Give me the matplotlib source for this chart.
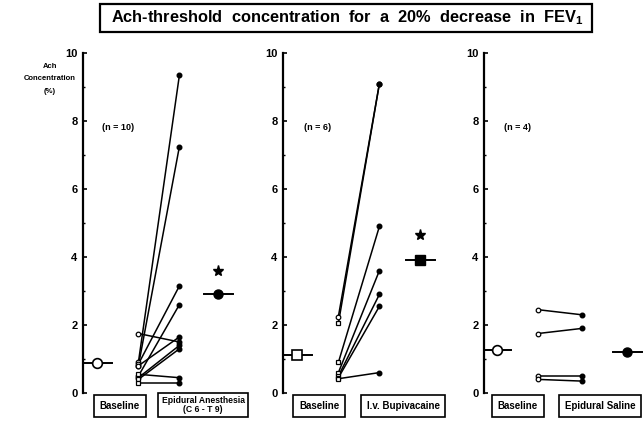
import matplotlib.pyplot as plt
from matplotlib.patches import Rectangle

plt.rcParams['font.family'] = ['Liberation Sans', 'DejaVu Sans']
plt.rcParams['font.weight'] = 'bold'
plt.rcParams['mathtext.fontset'] = 'custom'
plt.rcParams['mathtext.rm'] = 'Liberation Sans:bold'
plt.rcParams['mathtext.bf'] = 'Liberation Sans:bold'

# individual subjects: baseline -> treatment
base1 = [0.9, 0.8, 0.85, 0.5, 1.75, 0.8, 0.45, 0.4, 0.55, 0.3]
treat1 = [9.35, 7.25, 3.15, 2.6, 1.5, 1.65, 1.4, 1.3, 0.45, 0.3]
base2 = [2.25, 2.05, 0.9, 0.6, 0.5, 0.45, 0.42]
treat2 = [9.1, 9.1, 4.9, 3.6, 2.9, 2.55, 0.6]
base3 = [2.45, 1.75, 0.5, 0.4]
treat3 = [2.3, 1.9, 0.5, 0.35]

# group means
mean_base = [0.88, 1.12, 1.27]
mean_treat = [2.9, 3.92, 1.22]
star_y = [3.6, 4.65, None]

n_labels = ['(n = 10)', '(n = 6)', '(n = 4)']
treat_labels = ['Epidural Anesthesia\n(C 6 - T 9)', 'I.v. Bupivacaine', 'Epidural Saline']
yticks = [0, 2, 4, 6, 8, 10]

W, H = 643, 425
fig = plt.figure(figsize=(W / 100, H / 100), dpi=100)

lefts = [83, 283, 484]
col_x = [(0, 1, 2, 2.95), (0, 1, 2, 3.0), (-0.03, 0.97, 2.04, 3.14)]
base_mk = ['o', 's', 'o']
mean_base_mk = ['o', 's', 'o']
mean_treat_mk = ['o', 's', 'o']
data = [(base1, treat1), (base2, treat2), (base3, treat3)]

for i in range(3):
    ax = fig.add_axes([lefts[i] / W, 32 / H, 160 / W, 340 / H])
    ax.set_xlim(-0.35, 3.55)
    ax.set_ylim(0, 10)
    for s in ['top', 'right', 'bottom']:
        ax.spines[s].set_visible(False)
    ax.spines['left'].set_linewidth(1.6)
    ax.set_xticks([])
    ax.set_yticks(yticks)
    ax.set_yticklabels([str(v) for v in yticks], fontweight='bold')
    ax.set_yticks([1, 3, 5, 7, 9], minor=True)
    ax.tick_params(axis='y', direction='in', length=3, width=1.2, labelsize=8, pad=4)
    ax.tick_params(axis='y', which='minor', direction='in', length=1.5, width=1)

    xm0, xb, xt, xm1 = col_x[i]
    b, t = data[i]
    for bv, tv in zip(b, t):
        ax.plot([xb, xt], [bv, tv], color='black', lw=1.1, zorder=2)
    mk = [base_mk[i]] * len(b)
    if i == 1:
        mk[0] = 'o'
    if i == 0:
        mk[-3:] = ['s', 's', 's']
    for bv, m in zip(b, mk):
        ax.plot(xb, bv, marker=m, ms=3.3, mfc='white', mec='black', mew=0.9, zorder=3)
    ax.plot([xt] * len(t), t, 'o', ms=3.3, color='black', zorder=3)

    # means with horizontal bars
    ax.plot([xm0 - 0.35, xm0 + 0.35], [mean_base[i]] * 2, color='black', lw=1.4)
    ax.plot(xm0, mean_base[i], marker=mean_base_mk[i], ms=7, mfc='white', mec='black', mew=1.2)
    ax.plot([xm1 - 0.35, xm1 + 0.35], [mean_treat[i]] * 2, color='black', lw=1.4)
    ax.plot(xm1, mean_treat[i], marker=mean_treat_mk[i], ms=6.5, color='black')
    if star_y[i] is not None:
        ax.plot(xm1, star_y[i], marker='*', ms=8, color='black')

    ax.text(xb - 0.5, 7.8, n_labels[i], fontsize=6.5, fontweight='bold', ha='center', va='center')

fig.text(50 / W, 1 - 79 / H, 'Ach\nConcentration\n(%)', fontsize=5.5, fontweight='bold',
         ha='center', va='center', linespacing=2.1)

box_pos = [(120, 406, 'Baseline', 7), (203, 405, treat_labels[0], 6.2),
           (319, 406, 'Baseline', 7), (403, 406, treat_labels[1], 7),
           (518, 406, 'Baseline', 7), (600, 406, treat_labels[2], 7)]
for px, py, s, fs in box_pos:
    pad = 0.35 if '\n' in s else 0.6
    box = dict(boxstyle='square,pad=%.2f' % pad, fc='white', ec='black', lw=1.2)
    fig.text(px / W, 1 - py / H, s, fontsize=fs, fontweight='bold', ha='center', va='center',
             bbox=box, linespacing=1.0)

fig.patches.append(Rectangle((100 / W, 1 - 32 / H), 492 / W, 28 / H, transform=fig.transFigure,
                             fill=False, ec='black', lw=1.6))
fig.text(347 / W, 1 - 18 / H, r'Ach-threshold  concentration  for  a  20%  decrease  in  FEV$_1$',
         fontsize=11.8, fontweight='bold', ha='center', va='center')

fig.savefig('out.png', dpi=100)
